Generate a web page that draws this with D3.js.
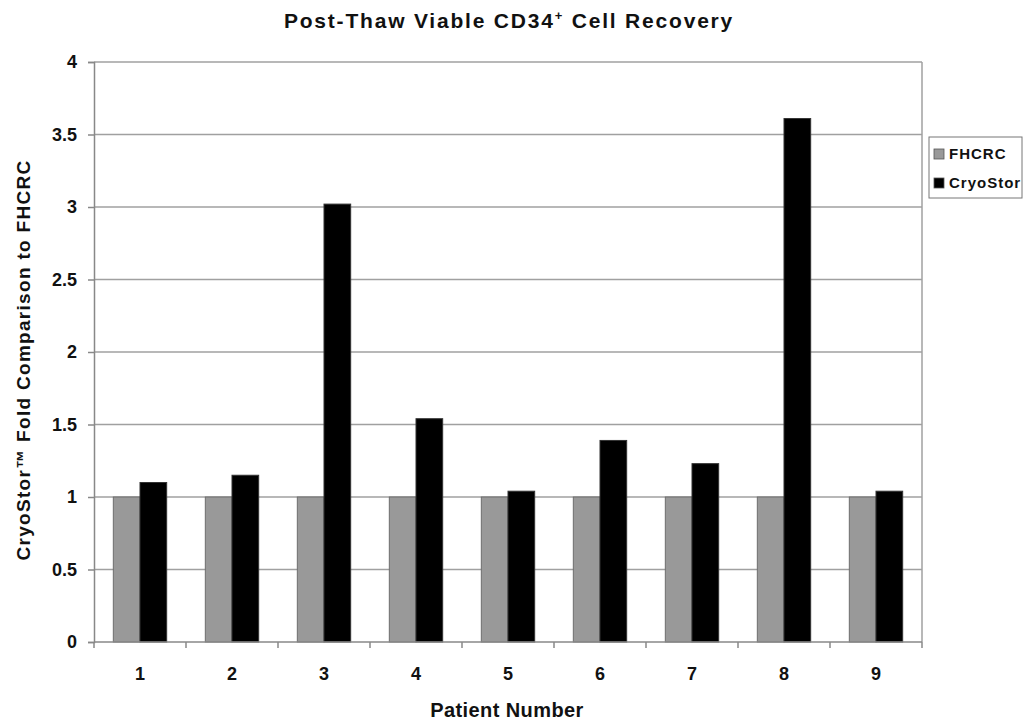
<!DOCTYPE html>
<html>
<head>
<meta charset="utf-8">
<script src="https://cdn.jsdelivr.net/npm/d3@7"></script>
<style>
  body { margin: 0; background: #fff; }
  text { font-family: "Liberation Sans", Arial, sans-serif; font-weight: bold; fill: #111; }
</style>
</head>
<body>
<svg id="chart" width="1029" height="725"></svg>
<script>

// chart values
const patients = ["1", "2", "3", "4", "5", "6", "7", "8", "9"];
const series_names = ["FHCRC", "CryoStor"];
const fhcrc_values = [1, 1, 1, 1, 1, 1, 1, 1, 1];
const cryostor_values = [1.10, 1.15, 3.02, 1.54, 1.04, 1.39, 1.23, 3.61, 1.04];
const y_ticks = [0, 0.5, 1, 1.5, 2, 2.5, 3, 3.5, 4];
const series_colors = ["#999999", "#000000"];

const svg = d3.select("#chart");

const margin = {left: 94, top: 62, right: 107, bottom: 83};
const innerWidth = 1029 - margin.left - margin.right;
const innerHeight = 725 - margin.top - margin.bottom;

const g = svg.append("g")
             .attr("transform", `translate(${margin.left},${margin.top})`);

const xScale = d3.scaleBand()
                 .domain(patients)
                 .range([0, innerWidth])
                 .paddingInner(0.42)
                 .paddingOuter(0.21);

const xSub = d3.scaleBand()
               .domain(series_names)
               .range([0, xScale.bandwidth()]);

const yScale = d3.scaleLinear()
                 .domain([0, 4])
                 .range([innerHeight, 0]);

// horizontal grid lines
g.selectAll(".grid")
 .data(y_ticks.filter(d => d > 0))
 .enter()
 .append("line")
 .attr("class", "grid")
 .attr("x1", 0)
 .attr("x2", innerWidth)
 .attr("y1", d => yScale(d))
 .attr("y2", d => yScale(d))
 .attr("stroke", "#a0a0a0")
 .attr("stroke-width", 1.5);

// right border of plot area
g.append("line")
 .attr("x1", innerWidth).attr("x2", innerWidth)
 .attr("y1", 0).attr("y2", innerHeight)
 .attr("stroke", "#a0a0a0")
 .attr("stroke-width", 1.5);

// bars
const data = patients.map((p, i) => ({patient: p, values: [fhcrc_values[i], cryostor_values[i]]}));

const groups = g.selectAll(".group")
                .data(data)
                .enter()
                .append("g")
                .attr("class", "group")
                .attr("transform", d => `translate(${xScale(d.patient)},0)`);

groups.selectAll("rect")
      .data(d => d.values.map((v, j) => ({name: series_names[j], value: v, color: series_colors[j]})))
      .enter()
      .append("rect")
      .attr("class", "bar")
      .attr("x", d => xSub(d.name))
      .attr("width", xSub.bandwidth())
      .attr("y", d => yScale(d.value))
      .attr("height", d => innerHeight - yScale(d.value))
      .attr("fill", d => d.color)
      .attr("stroke", d => d.name == "FHCRC" ? "#6e6e6e" : "#333")
      .attr("stroke-width", 1);

// y axis
const yAxis = g.append("g")
               .call(d3.axisLeft(yScale).tickValues(y_ticks).tickSize(6).tickPadding(11).tickFormat(d3.format("")));
yAxis.select(".domain").attr("stroke", "#888").attr("stroke-width", 1.5);
yAxis.selectAll(".tick line").attr("stroke", "#888").attr("stroke-width", 1.5);
yAxis.selectAll(".tick text").style("font-size", "18px").attr("fill", "#111");

// x axis: ticks on category boundaries
const xAxis = g.append("g")
               .attr("transform", `translate(0,${innerHeight})`);
xAxis.append("line")
     .attr("x1", 0).attr("x2", innerWidth)
     .attr("stroke", "#888").attr("stroke-width", 1.5);
xAxis.selectAll(".xtick")
     .data(d3.range(patients.length + 1))
     .enter()
     .append("line")
     .attr("class", "xtick")
     .attr("x1", i => i * xScale.step())
     .attr("x2", i => i * xScale.step())
     .attr("y1", 0)
     .attr("y2", 6)
     .attr("stroke", "#888")
     .attr("stroke-width", 1.5);
xAxis.selectAll(".xlabel")
     .data(patients)
     .enter()
     .append("text")
     .attr("class", "xlabel")
     .attr("text-anchor", "middle")
     .attr("x", d => xScale(d) + xScale.bandwidth() / 2)
     .attr("y", 38)
     .style("font-size", "18px")
     .text(d => d);

// axis titles
svg.append("text")
   .attr("text-anchor", "middle")
   .attr("x", 507)
   .attr("y", 717)
   .style("font-size", "20px")
   .style("letter-spacing", "0.4px")
   .text("Patient Number");

svg.append("text")
   .attr("text-anchor", "middle")
   .attr("transform", "translate(30,360) rotate(-90)")
   .style("font-size", "19px")
   .style("letter-spacing", "1.3px")
   .text("CryoStor\u2122 Fold Comparison to FHCRC");

// title
const title = svg.append("text")
                 .attr("text-anchor", "middle")
                 .attr("x", 509)
                 .attr("y", 28)
                 .style("font-size", "21px")
                 .style("letter-spacing", "1.8px");
title.append("tspan").text("Post-Thaw Viable CD34");
title.append("tspan").attr("dy", -8).style("font-size", "13px").text("+");
title.append("tspan").attr("dy", 8).text(" Cell Recovery");

// legend
const legend = svg.append("g")
                  .attr("transform", "translate(929,137)");
legend.append("rect")
      .attr("width", 93)
      .attr("height", 61)
      .attr("fill", "#fff")
      .attr("stroke", "#777")
      .attr("stroke-width", 1);
const items = legend.selectAll(".item")
                    .data(series_names)
                    .enter()
                    .append("g")
                    .attr("class", "item")
                    .attr("transform", (d, i) => `translate(5,${22 + i * 29})`);
items.append("rect")
     .attr("x", 0)
     .attr("y", -10)
     .attr("width", 10)
     .attr("height", 10)
     .attr("fill", (d, i) => series_colors[i])
     .attr("stroke", "#555")
     .attr("stroke-width", 0.8);
items.append("text")
     .attr("x", 15)
     .attr("y", 0)
     .style("font-size", "15px")
     .style("letter-spacing", "1px")
     .text(d => d);

</script>
</body>
</html>
